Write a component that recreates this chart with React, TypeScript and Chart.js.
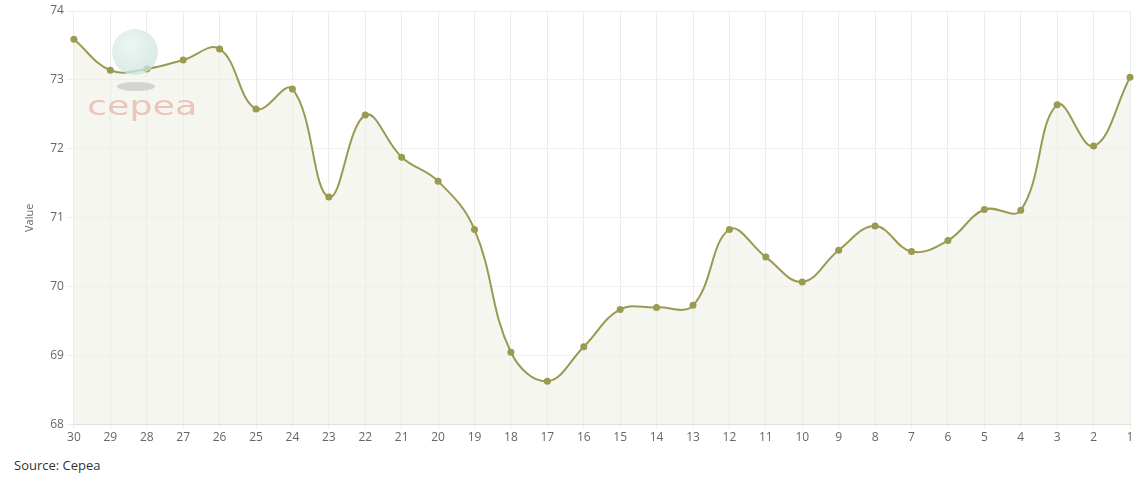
import React, { useEffect, useRef } from "react";
import { Chart, registerables } from "chart.js";

Chart.register(...registerables);

const categories = ["30","29","28","27","26","25","24","23","22","21","20","19","18","17","16","15","14","13","12","11","10","9","8","7","6","5","4","3","2","1"];
const values = [73.59,73.14,73.16,73.29,73.45,72.58,72.87,71.30,72.49,71.88,71.53,70.83,69.05,68.63,69.13,69.67,69.70,69.73,70.83,70.43,70.07,70.53,70.88,70.51,70.67,71.12,71.11,72.64,72.04,73.04];
const yMin = 68;
const yMax = 74;
const yTitle = "Value";
const sourceText = "Source: Cepea";
const logoText = "cepea";

export default function App() {
  const ref = useRef<HTMLCanvasElement | null>(null);
  useEffect(() => {
    document.body.style.margin = "0";
    const ctx = ref.current!;
    const chart = new Chart(ctx, {
      type: "line",
      data: {
        labels: categories,
        datasets: [
          {
            data: values,
            borderColor: "#9a9a55",
            borderWidth: 2,
            backgroundColor: "rgba(238,238,228,0.55)",
            fill: "start",
            tension: 0.4,
            pointRadius: 3.5,
            pointBackgroundColor: "#9a9a50",
            pointBorderColor: "#9a9a50",
            pointBorderWidth: 0,
          },
        ],
      },
      options: {
        animation: false,
        responsive: false,
        maintainAspectRatio: false,
        layout: { padding: { top: 11, right: 17, left: 23, bottom: 0 } },
        plugins: { legend: { display: false }, tooltip: { enabled: false } },
        scales: {
          x: {
            offset: false,
            grid: { color: "#ececec", drawTicks: true, tickLength: 4 },
            border: { color: "#e0e0e0" },
            ticks: { color: "#666", font: { family: "Open Sans", size: 12 }, maxRotation: 0, autoSkip: false, padding: 2 },
          },
          y: {
            min: yMin,
            max: yMax,
            grid: { color: "#f0f0f0", drawTicks: true, tickLength: 8 },
            border: { display: false },
            ticks: { stepSize: 1, color: "#666", font: { family: "Open Sans", size: 12 }, padding: 2 },
            title: { display: true, text: yTitle, color: "#666", font: { family: "Open Sans", size: 11 }, padding: { top: 0, bottom: 12 } },
          },
        },
      },
    });
    return () => chart.destroy();
  }, []);

  return (
    <div style={{ position: "relative", width: 1147, height: 484, fontFamily: "Open Sans" }}>
      <canvas ref={ref} width={1147} height={447} style={{ display: "block", width: 1147, height: 447 }} />
      <div style={{ position: "absolute", left: 112, top: 29, width: 46, height: 46, borderRadius: "50%", background: "radial-gradient(circle at 40% 35%, rgba(235,245,242,0.9), rgba(190,220,210,0.7))", pointerEvents: "none" }} />
      <div style={{ position: "absolute", left: 117, top: 82, width: 38, height: 9, borderRadius: "50%", background: "rgba(190,190,190,0.6)", pointerEvents: "none" }} />
      <div style={{ position: "absolute", left: 87, top: 93, color: "rgba(230,180,165,0.75)", fontSize: 26, fontFamily: "DejaVu Sans", lineHeight: "26px", transform: "scaleX(1.4)", transformOrigin: "left top", pointerEvents: "none" }}>{logoText}</div>
      <div style={{ position: "absolute", left: 14, top: 456, fontSize: 13, color: "#333" }}>{sourceText}</div>
    </div>
  );
}
